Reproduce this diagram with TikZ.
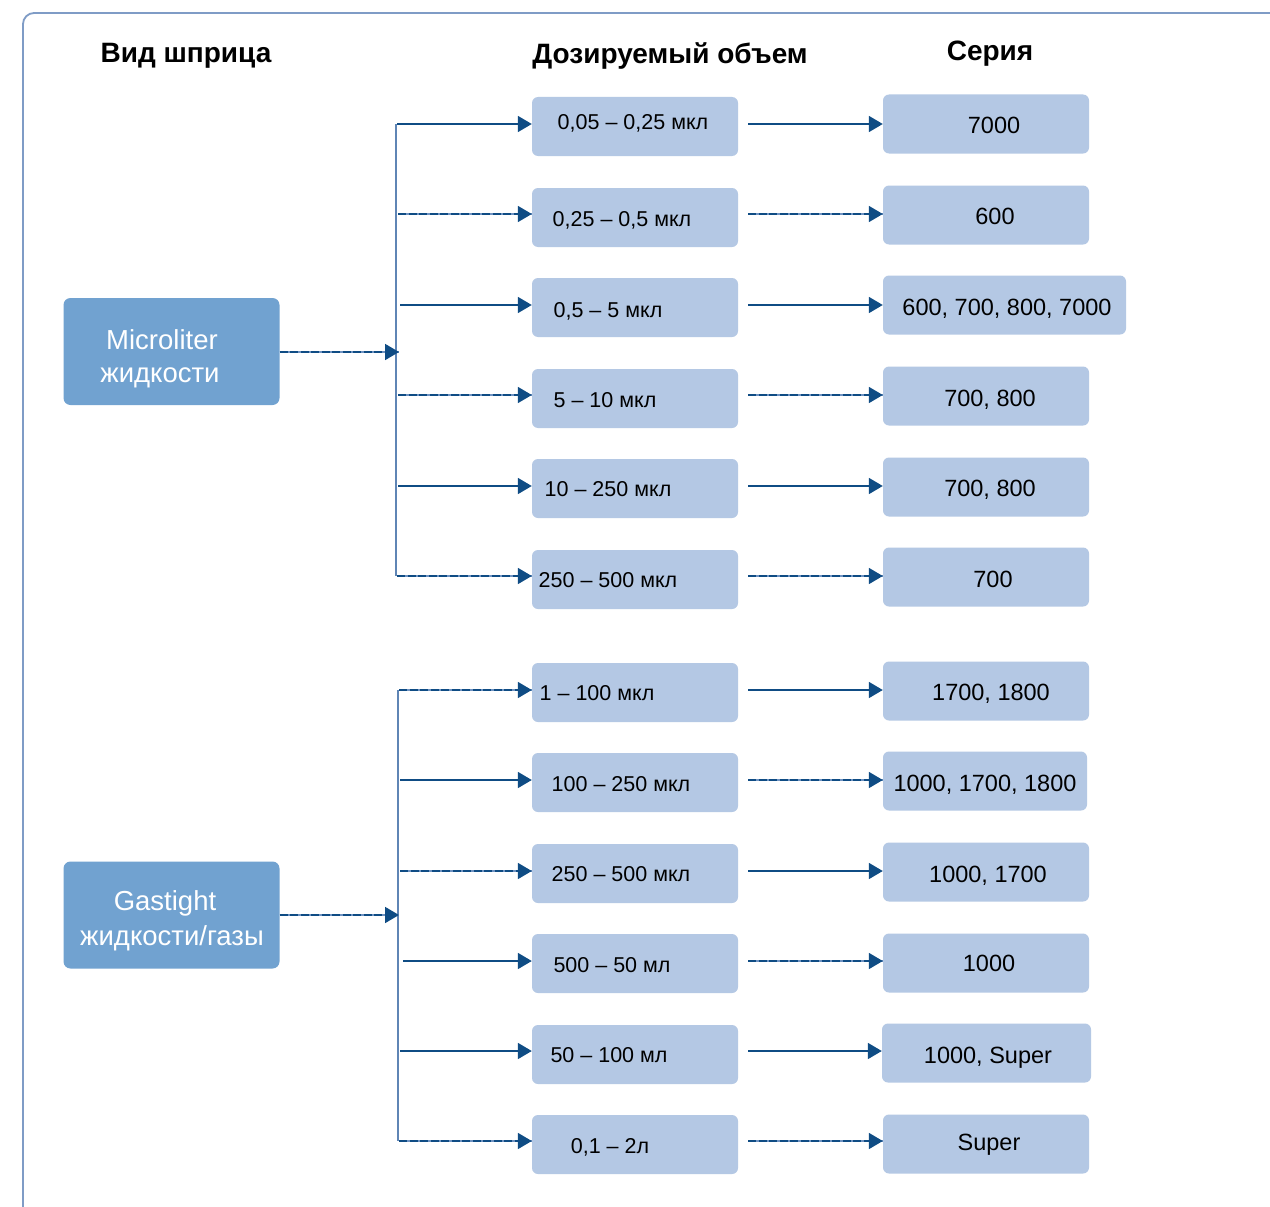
\documentclass[tikz,border=0pt]{standalone}
\usepackage{fontspec}
\setmainfont{Liberation Sans}
\usetikzlibrary{arrows.meta,calc}
\definecolor{boxlight}{HTML}{B4C8E4}
\definecolor{boxdark}{HTML}{71A2D0}
\definecolor{arrowblue}{HTML}{0F4C84}
\definecolor{trunkblue}{HTML}{5F85B5}
\definecolor{dashback}{HTML}{6F93C2}
\definecolor{framecol}{HTML}{7F9CC6}
\begin{document}
\begin{tikzpicture}[x=1pt,y=-1pt,
  volbox/.style={fill=boxlight, rounded corners=6pt, minimum width=206pt, minimum height=59pt, inner sep=0pt},
  typebox/.style={fill=boxdark, rounded corners=7pt, minimum width=216pt, minimum height=107pt, inner sep=0pt},
  voltext/.style={anchor=base, inner sep=0pt, font=\fontsize{21.5}{24}\selectfont},
  sertext/.style={anchor=base, inner sep=0pt, font=\fontsize{23.5}{26}\selectfont},
  typetext/.style={anchor=base, inner sep=0pt, text=white, font=\fontsize{27.5}{30}\selectfont},
  headtext/.style={anchor=base, inner sep=0pt, font=\bfseries\fontsize{28}{30}\selectfont},
  conn/.style={draw=arrowblue, line width=1.8pt, -{Triangle[length=14pt,width=16pt]}},
  dconn/.style={conn, preaction={draw=dashback, solid, line width=1.8pt, -}, dash pattern=on 8pt off 2.5pt},
  trunk/.style={draw=trunkblue, line width=1.5pt}
]
\useasboundingbox (0,0) rectangle (1270,1207);
\fill[white] (0,0) rectangle (1270,1207);
% frame
\draw[framecol, line width=1.8pt, rounded corners=11pt] (23,1230) -- (23,13) -- (1290,13);

% headers
\node[headtext] (h1) at (186,63) {Вид шприца};
\node[headtext] (h2) at (670,64) {Дозируемый объем};
\node[headtext] (h3) at (990,61) {Серия};

% type boxes
\node[typebox] (m) at (171.5,351.5) {};
\node[typetext] (mt1) at (162,349) {Microliter};
\node[typetext] (mt2) at (160,382) {жидкости};
\node[typebox] (g) at (171.5,915) {};
\node[typetext] (gt1) at (165,910) {Gastight};
\node[typetext] (gt2) at (172,945) {жидкости/газы};

% volume boxes
\foreach \i/\y in {1/126.5,2/217.5,3/307.5,4/398.5,5/488.5,6/579.5,7/692.5,8/782.5,9/873.5,10/963.5,11/1054.5,12/1144.5}{
  \node[volbox] (v\i) at (635,\y) {};
}
% series boxes
\node[volbox] (r1) at (986,124) {};
\node[volbox] (r2) at (986,215) {};
\node[volbox, minimum width=243pt] (r3) at (1004.5,305) {};
\node[volbox] (r4) at (986,396) {};
\node[volbox] (r5) at (986,487) {};
\node[volbox] (r6) at (986,577) {};
\node[volbox] (r7) at (986,691) {};
\node[volbox, minimum width=204pt] (r8) at (985,781) {};
\node[volbox] (r9) at (986,872) {};
\node[volbox] (r10) at (986,963) {};
\node[volbox, minimum width=209pt] (r11) at (986.5,1053) {};
\node[volbox] (r12) at (986,1144) {};

% volume texts
\node[voltext] (vt1) at (633,129.7) {0,05 – 0,25 мкл};
\node[voltext] (vt2) at (622,226.7) {0,25 – 0,5 мкл};
\node[voltext] (vt3) at (608,317.7) {0,5 – 5 мкл};
\node[voltext] (vt4) at (605,407.7) {5 – 10 мкл};
\node[voltext] (vt5) at (608,496.7) {10 – 250 мкл};
\node[voltext] (vt6) at (608,587.7) {250 – 500 мкл};
\node[voltext] (vt7) at (597,700.7) {1 – 100 мкл};
\node[voltext] (vt8) at (621,791.7) {100 – 250 мкл};
\node[voltext] (vt9) at (621,881.7) {250 – 500 мкл};
\node[voltext] (vt10) at (612,972.7) {500 – 50 мл};
\node[voltext] (vt11) at (609,1062.7) {50 – 100 мл};
\node[voltext] (vt12) at (610,1153.7) {0,1 – 2л};

% series texts
\node[sertext] (rt1) at (994,133.5) {7000};
\node[sertext] (rt2) at (995,224.5) {600};
\node[sertext] (rt3) at (1007,315.5) {600, 700, 800, 7000};
\node[sertext] (rt4) at (990,406.5) {700, 800};
\node[sertext] (rt5) at (990,496.5) {700, 800};
\node[sertext] (rt6) at (993,587.5) {700};
\node[sertext] (rt7) at (991,700.5) {1700, 1800};
\node[sertext] (rt8) at (985,791.5) {1000, 1700, 1800};
\node[sertext] (rt9) at (988,882.5) {1000, 1700};
\node[sertext] (rt10) at (989,971.5) {1000};
\node[sertext] (rt11) at (988,1063.5) {1000, Super};
\node[sertext] (rt12) at (989,1150.5) {Super};

% trunks
\coordinate (a1) at (396,124);
\coordinate (a6) at (396,576);
\coordinate (b1) at (398,690);
\coordinate (b6) at (398,1141);
\draw[trunk] (a1) -- (a6);
\draw[trunk] (b1) -- (b6);

% type arrows
\coordinate (mj) at (399,352);
\coordinate (gj) at (399,915);
\draw[dconn] (m.east |- mj) -- (mj);
\draw[dconn] (g.east |- gj) -- (gj);

% left arrows
\foreach \i/\x/\y/\s in {1/397/124/conn,2/398/214/dconn,3/400/305/conn,4/398/395/dconn,5/398/486/conn,6/397/576/dconn,
                        7/399/690/dconn,8/400/780/conn,9/400/871/dconn,10/403/961/conn,11/400/1051/conn,12/399/1141/dconn}{
  \coordinate (l\i) at (\x,\y);
  \draw[\s] (l\i) -- (l\i -| v\i.west);
}
% right arrows
\foreach \i/\y/\s in {1/124/conn,2/214/dconn,3/305/conn,4/395/dconn,5/486/conn,6/576/dconn,
                     7/690/conn,8/780/dconn,9/871/conn,10/961/dconn,11/1051/conn,12/1141/dconn}{
  \coordinate (s\i) at (748,\y);
  \draw[\s] (s\i) -- (s\i -| r\i.west);
}
\end{tikzpicture}
\end{document}
